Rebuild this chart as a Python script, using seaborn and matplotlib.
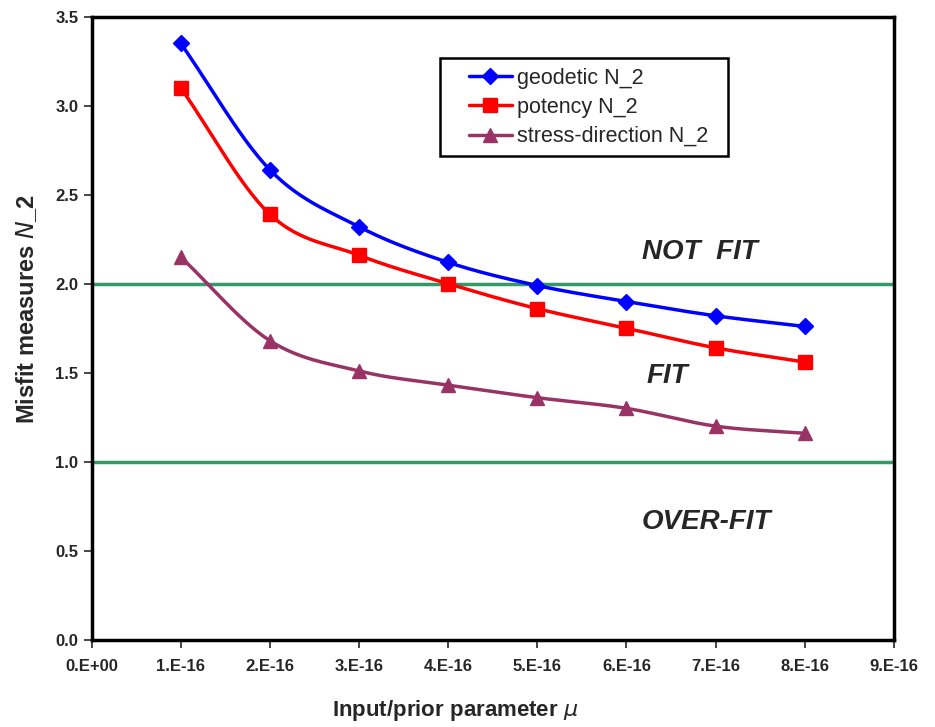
import numpy as np
import pandas as pd
import matplotlib
matplotlib.use("Agg")
import matplotlib.pyplot as plt
from matplotlib.lines import Line2D
from matplotlib.patches import Rectangle
import seaborn as sns

# data
mu = [1e-16, 2e-16, 3e-16, 4e-16, 5e-16, 6e-16, 7e-16, 8e-16]
geodetic = [3.35, 2.64, 2.32, 2.12, 1.99, 1.90, 1.82, 1.76]
potency = [3.10, 2.39, 2.16, 2.00, 1.86, 1.75, 1.64, 1.56]
stress = [2.15, 1.68, 1.51, 1.43, 1.36, 1.30, 1.20, 1.16]

x_ticks = [0, 1e-16, 2e-16, 3e-16, 4e-16, 5e-16, 6e-16, 7e-16, 8e-16, 9e-16]
x_labels = ["0.E+00", "1.E-16", "2.E-16", "3.E-16", "4.E-16",
            "5.E-16", "6.E-16", "7.E-16", "8.E-16", "9.E-16"]


def smooth(x, y, n=30):
    """Catmull-Rom style smoothing like Excel's smoothed lines."""
    x = np.asarray(x, float)
    y = np.asarray(y, float)
    px = np.concatenate([[2 * x[0] - x[1]], x, [2 * x[-1] - x[-2]]])
    py = np.concatenate([[2 * y[0] - y[1]], y, [2 * y[-1] - y[-2]]])
    xs, ys = [], []
    t = np.linspace(0, 1, n)
    for i in range(1, len(px) - 2):
        p0, p1, p2, p3 = (np.array([px[j], py[j]]) for j in range(i - 1, i + 3))
        c1 = p1 + (p2 - p0) / 6
        c2 = p2 - (p3 - p1) / 6
        pts = ((1 - t) ** 3)[:, None] * p1 + (3 * (1 - t) ** 2 * t)[:, None] * c1 \
            + (3 * (1 - t) * t ** 2)[:, None] * c2 + (t ** 3)[:, None] * p2
        xs.extend(pts[:, 0])
        ys.extend(pts[:, 1])
    return xs, ys


sns.set_style("white")
plt.rcParams['font.family'] = ['Liberation Sans', 'DejaVu Sans']

fig = plt.figure(figsize=(9.35, 7.27), dpi=100)
ax = fig.add_axes([0.098, 0.12, 0.858, 0.857])

series = [
    ("geodetic N_2", geodetic, "#0000FF", "D", 8),
    ("potency N_2", potency, "#FF0000", "s", 10),
    ("stress-direction N_2", stress, "#993366", "^", 10),
]

handles = []
for name, vals, col, mk, ms in series:
    sx, sy = smooth(mu, vals)
    df = pd.DataFrame({"x": sx, "y": sy})
    sns.lineplot(data=df, x="x", y="y", ax=ax, color=col, linewidth=2.5,
                 sort=False, estimator=None)
    ax.plot(mu, vals, linestyle="none", marker=mk, markersize=ms, color=col,
            zorder=5)
    handles.append(Line2D([], [], color=col, linewidth=2.5, marker=mk,
                          markersize=ms, label=name))

# fit bands
ax.axhline(2.0, color="#339966", linewidth=2.5, zorder=1)
ax.axhline(1.0, color="#339966", linewidth=2.5, zorder=1)

txt = dict(fontsize=20, fontweight="bold", fontstyle="italic", ha="center",
           va="center")
ax.text(6.83e-16, 2.18, "NOT  FIT", **txt)
ax.text(6.46e-16, 1.48, "FIT", **txt)
ax.text(6.9e-16, 0.66, "OVER-FIT", **txt)

ax.set_xlim(0, 9e-16)
ax.set_ylim(0, 3.5)
ax.set_xticks(x_ticks)
ax.set_xticklabels(x_labels)
ax.set_yticks(np.arange(0, 3.51, 0.5))
ax.set_yticklabels([f"{v:.1f}" for v in np.arange(0, 3.51, 0.5)])
ax.tick_params(axis="both", direction="out", length=6, width=1.2,
               labelsize=12, bottom=True, left=True)
ax.tick_params(axis="x", pad=8)
for lbl in ax.get_xticklabels() + ax.get_yticklabels():
    lbl.set_fontweight("bold")
ax.xaxis.get_offset_text().set_visible(False)

for s in ax.spines.values():
    s.set_visible(True)
    s.set_color("black")
    s.set_linewidth(2.5)

ax.set_xlabel("Input/prior parameter $\\mu$", fontsize=16, fontweight="bold")
ax.xaxis.set_label_coords(0.453, -0.094)
ax.set_ylabel("Misfit measures $N$_2", fontsize=17, fontweight="bold")
ax.yaxis.set_label_coords(-0.066, 0.531)

# legend: box drawn separately to get Excel-like padding
ax.add_patch(Rectangle((0.434, 0.777), 0.359, 0.156, transform=ax.transAxes,
                       facecolor="white", edgecolor="black", linewidth=1.8,
                       zorder=6))
leg = ax.legend(handles=handles, loc="upper left", bbox_to_anchor=(0.470, 0.918),
                frameon=False, fontsize=15.5, handlelength=2.0,
                handletextpad=0.25, borderpad=0, borderaxespad=0,
                labelspacing=0.38)
leg.set_zorder(7)

fig.savefig("out.png", dpi=100, facecolor="white")
